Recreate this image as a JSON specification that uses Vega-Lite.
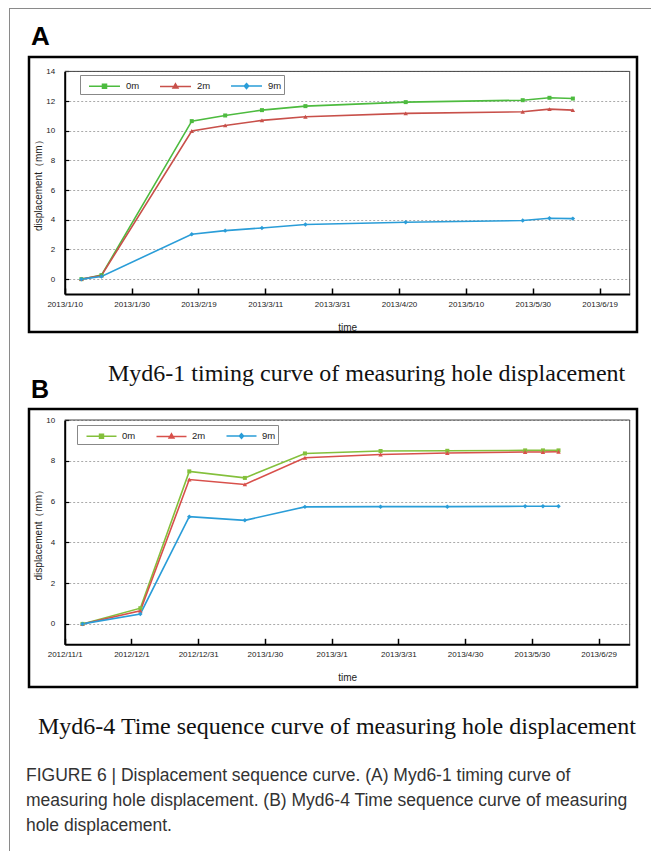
{
  "$schema": "https://vega.github.io/schema/vega-lite/v6.json",
  "background": "white",
  "padding": {"left": 9, "top": 8, "right": 0, "bottom": 0},
  "config": {
    "view": {"stroke": null},
    "font": "Liberation Sans",
    "axis": {"labelFont": "Liberation Sans", "titleFont": "Liberation Sans"},
    "legend": {"labelFont": "Liberation Sans"}
  },
  "datasets": {
    "a": [
      {"date": "2013/01/15", "depth": "0m", "disp": 0},
      {"date": "2013/01/21", "depth": "0m", "disp": 0.27},
      {"date": "2013/02/17", "depth": "0m", "disp": 10.65},
      {"date": "2013/02/27", "depth": "0m", "disp": 11.03},
      {"date": "2013/03/10", "depth": "0m", "disp": 11.39},
      {"date": "2013/03/23", "depth": "0m", "disp": 11.66},
      {"date": "2013/04/22", "depth": "0m", "disp": 11.93},
      {"date": "2013/05/27", "depth": "0m", "disp": 12.06},
      {"date": "2013/06/04", "depth": "0m", "disp": 12.22},
      {"date": "2013/06/11", "depth": "0m", "disp": 12.17},
      {"date": "2013/01/15", "depth": "2m", "disp": 0},
      {"date": "2013/01/21", "depth": "2m", "disp": 0.25},
      {"date": "2013/02/17", "depth": "2m", "disp": 9.98},
      {"date": "2013/02/27", "depth": "2m", "disp": 10.36},
      {"date": "2013/03/10", "depth": "2m", "disp": 10.7},
      {"date": "2013/03/23", "depth": "2m", "disp": 10.94},
      {"date": "2013/04/22", "depth": "2m", "disp": 11.17},
      {"date": "2013/05/27", "depth": "2m", "disp": 11.28},
      {"date": "2013/06/04", "depth": "2m", "disp": 11.46},
      {"date": "2013/06/11", "depth": "2m", "disp": 11.39},
      {"date": "2013/01/15", "depth": "9m", "disp": 0},
      {"date": "2013/01/21", "depth": "9m", "disp": 0.18},
      {"date": "2013/02/17", "depth": "9m", "disp": 3.03},
      {"date": "2013/02/27", "depth": "9m", "disp": 3.27},
      {"date": "2013/03/10", "depth": "9m", "disp": 3.45},
      {"date": "2013/03/23", "depth": "9m", "disp": 3.68},
      {"date": "2013/04/22", "depth": "9m", "disp": 3.83},
      {"date": "2013/05/27", "depth": "9m", "disp": 3.95},
      {"date": "2013/06/04", "depth": "9m", "disp": 4.1},
      {"date": "2013/06/11", "depth": "9m", "disp": 4.08}
    ],
    "b": [
      {"date": "2012/11/09", "depth": "0m", "disp": 0},
      {"date": "2012/12/05", "depth": "0m", "disp": 0.77},
      {"date": "2012/12/27", "depth": "0m", "disp": 7.48},
      {"date": "2013/01/21", "depth": "0m", "disp": 7.16},
      {"date": "2013/02/17", "depth": "0m", "disp": 8.36},
      {"date": "2013/03/23", "depth": "0m", "disp": 8.48},
      {"date": "2013/04/22", "depth": "0m", "disp": 8.49},
      {"date": "2013/05/27", "depth": "0m", "disp": 8.51},
      {"date": "2013/06/04", "depth": "0m", "disp": 8.51},
      {"date": "2013/06/11", "depth": "0m", "disp": 8.51},
      {"date": "2012/11/09", "depth": "2m", "disp": 0},
      {"date": "2012/12/05", "depth": "2m", "disp": 0.64},
      {"date": "2012/12/27", "depth": "2m", "disp": 7.08},
      {"date": "2013/01/21", "depth": "2m", "disp": 6.84},
      {"date": "2013/02/17", "depth": "2m", "disp": 8.15},
      {"date": "2013/03/23", "depth": "2m", "disp": 8.31},
      {"date": "2013/04/22", "depth": "2m", "disp": 8.38},
      {"date": "2013/05/27", "depth": "2m", "disp": 8.43},
      {"date": "2013/06/04", "depth": "2m", "disp": 8.43},
      {"date": "2013/06/11", "depth": "2m", "disp": 8.44},
      {"date": "2012/11/09", "depth": "9m", "disp": 0},
      {"date": "2012/12/05", "depth": "9m", "disp": 0.49},
      {"date": "2012/12/27", "depth": "9m", "disp": 5.26},
      {"date": "2013/01/21", "depth": "9m", "disp": 5.08},
      {"date": "2013/02/17", "depth": "9m", "disp": 5.74},
      {"date": "2013/03/23", "depth": "9m", "disp": 5.75},
      {"date": "2013/04/22", "depth": "9m", "disp": 5.75},
      {"date": "2013/05/27", "depth": "9m", "disp": 5.77},
      {"date": "2013/06/04", "depth": "9m", "disp": 5.77},
      {"date": "2013/06/11", "depth": "9m", "disp": 5.77}
    ]
  },
  "bounds": "flush",
  "spacing": 0,
  "vconcat": [
    {
      "width": 642,
      "height": 1,
      "data": {"values": []},
      "mark": "point",
      "view": {"fill": "#8a8a8a", "stroke": null}
    },
    {
      "bounds": "flush",
      "spacing": 19,
      "hconcat": [
        {
          "width": 1,
          "height": 842,
          "data": {"values": []},
          "mark": "point",
          "view": {"fill": "#8a8a8a", "stroke": null}
        },
        {
          "bounds": "flush",
          "spacing": 0,
          "resolve": {"scale": {"color": "independent", "x": "independent", "y": "independent"}, "legend": {"color": "independent"}},
          "vconcat": [
            {"width": 608, "height": 48, "data": {"values": []}, "mark": "point"},
            {
              "width": 608,
              "height": 275,
              "view": {"stroke": "black", "strokeWidth": 2.5},
              "title": {"text": "A", "anchor": "start", "orient": "top", "baseline": "alphabetic", "offset": -14, "dx": 2, "font": "Liberation Sans", "fontSize": 26, "fontWeight": "bold", "color": "black"},
              "data": {"name": "a"},
              "layer": [
                {
                  "mark": {"type": "line", "strokeWidth": 1.6},
                  "encoding": {
                    "x": {
                      "field": "date", "type": "temporal",
                      "scale": {"domain": [{"year": 2013, "month": 1, "date": 10}, {"year": 2013, "month": 6, "date": 28}], "range": [35.7, 600.7]},
                      "axis": {
                        "title": "time", "orient": "bottom", "offset": -38,
                        "values": [{"year": 2013, "month": 1, "date": 10}, {"year": 2013, "month": 1, "date": 30}, {"year": 2013, "month": 2, "date": 19}, {"year": 2013, "month": 3, "date": 11}, {"year": 2013, "month": 3, "date": 31}, {"year": 2013, "month": 4, "date": 20}, {"year": 2013, "month": 5, "date": 10}, {"year": 2013, "month": 5, "date": 30}, {"year": 2013, "month": 6, "date": 19}],
                        "format": "%Y/%-m/%-d", "labelFontSize": 8, "labelColor": "#222", "labelPadding": 12, "labelFlush": false, "labelOverlap": false,
                        "tickSize": -6, "tickColor": "black", "tickWidth": 1.5,
                        "domainColor": "black", "domainWidth": 2, "grid": false,
                        "titleFontSize": 10, "titleFontWeight": "normal", "titleColor": "#222", "titlePadding": 14
                      }
                    },
                    "y": {
                      "field": "disp", "type": "quantitative",
                      "scale": {"domain": [-1, 14], "range": [237, 14.4], "nice": false, "zero": false},
                      "axis": {
                        "title": "displacement（mm）", "orient": "left", "offset": -35.7,
                        "tickCount": 8,
                        "labelFontSize": 8, "labelColor": "#222", "labelPadding": 14, "labelOverlap": false,
                        "tickSize": -4, "tickColor": "black", "tickWidth": 1.2,
                        "domainColor": "black", "domainWidth": 2,
                        "grid": true, "gridColor": "#aaaaaa", "gridDash": [2, 2], "gridWidth": 1,
                        "titleFontSize": 10, "titleFontWeight": "normal", "titleColor": "#222", "titlePadding": 2
                      }
                    },
                    "color": {
                      "field": "depth", "type": "nominal",
                      "scale": {"domain": ["0m", "2m", "9m"], "range": ["#4dbb3f", "#c8504a", "#2a9dd8"]},
                      "legend": {
                        "orient": "none", "legendX": 51, "legendY": 18, "direction": "horizontal", "title": null,
                        "strokeColor": "#888", "fillColor": "white", "padding": 2.5,
                        "symbolSize": 240, "symbolStrokeWidth": 1.5, "symbolOffset": 13.5,
                        "labelFontSize": 9.5, "labelColor": "#222", "labelOffset": 13, "columnPadding": 14,
                        "encode": {"symbols": {"update": {
                          "shape": {"signal": "datum.value === '0m' ? 'M-2,0L2,0M-0.26,-0.26L0.26,-0.26L0.26,0.26L-0.26,0.26Z' : datum.value === '2m' ? 'M-2,0L2,0M0,-0.34L0.32,0.22L-0.32,0.22Z' : 'M-2,0L2,0M0,-0.32L0.28,0L0,0.32L-0.28,0Z'"},
                          "stroke": {"signal": "datum.value === '0m' ? '#4dbb3f' : datum.value === '2m' ? '#c8504a' : '#2a9dd8'"},
                          "fill": {"signal": "datum.value === '0m' ? '#4dbb3f' : datum.value === '2m' ? '#c8504a' : '#2a9dd8'"}
                        }}}
                      }
                    }
                  }
                },
                {
                  "transform": [{"filter": "datum.depth === '0m'"}],
                  "mark": {"type": "point", "shape": "square", "filled": true, "size": 16, "opacity": 1},
                  "encoding": {"x": {"field": "date", "type": "temporal"}, "y": {"field": "disp", "type": "quantitative"}, "color": {"field": "depth", "type": "nominal"}}
                },
                {
                  "transform": [{"filter": "datum.depth === '2m'"}],
                  "mark": {"type": "point", "shape": "triangle-up", "filled": true, "size": 20, "opacity": 1},
                  "encoding": {"x": {"field": "date", "type": "temporal"}, "y": {"field": "disp", "type": "quantitative"}, "color": {"field": "depth", "type": "nominal"}}
                },
                {
                  "transform": [{"filter": "datum.depth === '9m'"}],
                  "mark": {"type": "point", "shape": "diamond", "filled": true, "size": 20, "opacity": 1},
                  "encoding": {"x": {"field": "date", "type": "temporal"}, "y": {"field": "disp", "type": "quantitative"}, "color": {"field": "depth", "type": "nominal"}}
                },
                {
                  "data": {"values": [{}]},
                  "mark": {"type": "rule", "color": "#444", "strokeWidth": 1},
                  "encoding": {
                    "x": {"datum": {"year": 2013, "month": 1, "date": 10}, "type": "temporal"},
                    "x2": {"datum": {"year": 2013, "month": 6, "date": 28}},
                    "y": {"datum": 14, "type": "quantitative"}
                  }
                },
                {
                  "data": {"values": [{}]},
                  "mark": {"type": "rule", "color": "#444", "strokeWidth": 1},
                  "encoding": {
                    "x": {"datum": {"year": 2013, "month": 6, "date": 28}, "type": "temporal"},
                    "y": {"datum": -1, "type": "quantitative"},
                    "y2": {"datum": 14}
                  }
                }
              ]
            },
            {
              "width": 608, "height": 48, "data": {"values": []}, "mark": "point",
              "title": {"text": "Myd6-1 timing curve of measuring hole displacement", "orient": "bottom", "anchor": "start", "baseline": "alphabetic", "offset": 0.7, "dx": 79, "font": "Liberation Serif", "fontSize": 24, "fontWeight": "normal", "color": "#111"}
            },
            {"width": 608, "height": 29, "data": {"values": []}, "mark": "point"},
            {
              "width": 608,
              "height": 278,
              "view": {"stroke": "black", "strokeWidth": 2.5},
              "title": {"text": "B", "anchor": "start", "orient": "top", "baseline": "alphabetic", "offset": -14, "dx": 2, "font": "Liberation Sans", "fontSize": 25, "fontWeight": "bold", "color": "black"},
              "data": {"name": "b"},
              "layer": [
                {
                  "mark": {"type": "line", "strokeWidth": 1.6},
                  "encoding": {
                    "x": {
                      "field": "date", "type": "temporal",
                      "scale": {"domain": [{"year": 2012, "month": 11, "date": 1}, {"year": 2013, "month": 7, "date": 13}], "range": [35.7, 600.7]},
                      "axis": {
                        "title": "time", "orient": "bottom", "offset": -42.7,
                        "values": [{"year": 2012, "month": 11, "date": 1}, {"year": 2012, "month": 12, "date": 1}, {"year": 2012, "month": 12, "date": 31}, {"year": 2013, "month": 1, "date": 30}, {"year": 2013, "month": 3, "date": 1}, {"year": 2013, "month": 3, "date": 31}, {"year": 2013, "month": 4, "date": 30}, {"year": 2013, "month": 5, "date": 30}, {"year": 2013, "month": 6, "date": 29}],
                        "format": "%Y/%-m/%-d", "labelFontSize": 8, "labelColor": "#222", "labelPadding": 12, "labelFlush": false, "labelOverlap": false,
                        "tickSize": -6, "tickColor": "black", "tickWidth": 1.5,
                        "domainColor": "black", "domainWidth": 2, "grid": false,
                        "titleFontSize": 10, "titleFontWeight": "normal", "titleColor": "#222", "titlePadding": 14
                      }
                    },
                    "y": {
                      "field": "disp", "type": "quantitative",
                      "scale": {"domain": [-1, 10], "range": [235.3, 11], "nice": false, "zero": false},
                      "axis": {
                        "title": "displacement（mm）", "orient": "left", "offset": -35.7,
                        "tickCount": 6,
                        "labelFontSize": 8, "labelColor": "#222", "labelPadding": 14, "labelOverlap": false,
                        "tickSize": -4, "tickColor": "black", "tickWidth": 1.2,
                        "domainColor": "black", "domainWidth": 2,
                        "grid": true, "gridColor": "#aaaaaa", "gridDash": [2, 2], "gridWidth": 1,
                        "titleFontSize": 10, "titleFontWeight": "normal", "titleColor": "#222", "titlePadding": 2
                      }
                    },
                    "color": {
                      "field": "depth", "type": "nominal",
                      "scale": {"domain": ["0m", "2m", "9m"], "range": ["#84c03c", "#d8504b", "#2a9dd8"]},
                      "legend": {
                        "orient": "none", "legendX": 48, "legendY": 16, "direction": "horizontal", "title": null,
                        "strokeColor": "#888", "fillColor": "white", "padding": 2.5,
                        "symbolSize": 225, "symbolStrokeWidth": 1.5, "symbolOffset": 13.5,
                        "labelFontSize": 9.5, "labelColor": "#222", "labelOffset": 12, "columnPadding": 14,
                        "encode": {"symbols": {"update": {
                          "shape": {"signal": "datum.value === '0m' ? 'M-2,0L2,0M-0.26,-0.26L0.26,-0.26L0.26,0.26L-0.26,0.26Z' : datum.value === '2m' ? 'M-2,0L2,0M0,-0.34L0.32,0.22L-0.32,0.22Z' : 'M-2,0L2,0M0,-0.32L0.28,0L0,0.32L-0.28,0Z'"},
                          "stroke": {"signal": "datum.value === '0m' ? '#84c03c' : datum.value === '2m' ? '#d8504b' : '#2a9dd8'"},
                          "fill": {"signal": "datum.value === '0m' ? '#84c03c' : datum.value === '2m' ? '#d8504b' : '#2a9dd8'"}
                        }}}
                      }
                    }
                  }
                },
                {
                  "transform": [{"filter": "datum.depth === '0m'"}],
                  "mark": {"type": "point", "shape": "square", "filled": true, "size": 16, "opacity": 1},
                  "encoding": {"x": {"field": "date", "type": "temporal"}, "y": {"field": "disp", "type": "quantitative"}, "color": {"field": "depth", "type": "nominal"}}
                },
                {
                  "transform": [{"filter": "datum.depth === '2m'"}],
                  "mark": {"type": "point", "shape": "triangle-up", "filled": true, "size": 20, "opacity": 1},
                  "encoding": {"x": {"field": "date", "type": "temporal"}, "y": {"field": "disp", "type": "quantitative"}, "color": {"field": "depth", "type": "nominal"}}
                },
                {
                  "transform": [{"filter": "datum.depth === '9m'"}],
                  "mark": {"type": "point", "shape": "diamond", "filled": true, "size": 20, "opacity": 1},
                  "encoding": {"x": {"field": "date", "type": "temporal"}, "y": {"field": "disp", "type": "quantitative"}, "color": {"field": "depth", "type": "nominal"}}
                },
                {
                  "data": {"values": [{}]},
                  "mark": {"type": "rule", "color": "#444", "strokeWidth": 1},
                  "encoding": {
                    "x": {"datum": {"year": 2012, "month": 11, "date": 1}, "type": "temporal"},
                    "x2": {"datum": {"year": 2013, "month": 7, "date": 13}},
                    "y": {"datum": 10, "type": "quantitative"}
                  }
                },
                {
                  "data": {"values": [{}]},
                  "mark": {"type": "rule", "color": "#444", "strokeWidth": 1},
                  "encoding": {
                    "x": {"datum": {"year": 2013, "month": 7, "date": 13}, "type": "temporal"},
                    "y": {"datum": -1, "type": "quantitative"},
                    "y2": {"datum": 10}
                  }
                }
              ]
            },
            {
              "width": 608, "height": 47, "data": {"values": []}, "mark": "point",
              "title": {"text": "Myd6-4 Time sequence curve of measuring hole displacement", "orient": "bottom", "anchor": "start", "baseline": "alphabetic", "offset": 0, "dx": 9, "font": "Liberation Serif", "fontSize": 24, "fontWeight": "normal", "color": "#111"}
            },
            {
              "width": 608, "height": 47, "data": {"values": []}, "mark": "point",
              "title": {
                "text": ["FIGURE 6 | Displacement sequence curve. (A) Myd6-1 timing curve of", "measuring hole displacement. (B) Myd6-4 Time sequence curve of measuring", "hole displacement."],
                "orient": "bottom", "anchor": "start", "baseline": "alphabetic", "offset": 0, "dx": -3,
                "font": "Liberation Sans", "fontSize": 17.5, "fontWeight": "normal", "color": "#333", "lineHeight": 25
              }
            }
          ]
        }
      ]
    }
  ]
}
